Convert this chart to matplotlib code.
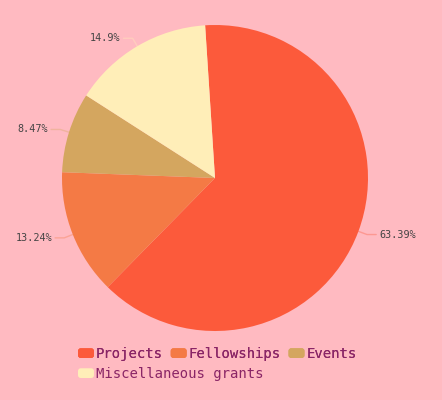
import numpy as np
import matplotlib
matplotlib.use('Agg')
import matplotlib.pyplot as plt
from matplotlib.patches import Patch, FancyBboxPatch
from matplotlib.legend_handler import HandlerPatch

# data
categories = ['Projects', 'Fellowships', 'Events', 'Miscellaneous grants']
shares = [63.39, 13.24, 8.47, 14.9]
pct_labels = ['63.39%', '13.24%', '8.47%', '14.9%']
colors = ['#FC5A3B', '#F47A45', '#D4A65F', '#FFEEB8']

bg = '#FFBAC1'
legend_color = '#8A2566'
label_color = '#444444'

fig = plt.figure(figsize=(4.42, 4.00), dpi=100, facecolor=bg)
ax = fig.add_axes([0, 0, 1, 1])
ax.set_facecolor(bg)

wedges, _ = ax.pie(shares, colors=colors, startangle=93.7, counterclock=False,
                   radius=1.0, wedgeprops=dict(linewidth=0))

# leader lines + labels
for w, lab, c in zip(wedges, pct_labels, colors):
    mid = np.deg2rad((w.theta1 + w.theta2) / 2)
    x0, y0 = np.cos(mid), np.sin(mid)
    x1, y1 = 1.06 * x0, 1.06 * y0
    side = 1 if x0 >= 0 else -1
    x2 = x1 + side * 0.06
    ax.plot([x0, x1, x2], [y0, y1, y1], color=c, alpha=0.35, lw=1,
            solid_capstyle='round')
    ax.text(x2 + side * 0.018, y1, lab, ha='left' if side > 0 else 'right',
            va='center', fontsize=7.3, family='DejaVu Sans Mono', color=label_color)

ax.set_aspect('auto')
ax.set_xlim(-215 / 153, 227 / 153)
ax.set_ylim(-222 / 153, 178 / 153)
ax.axis('off')


def rounded(legend, orig_handle, xdescent, ydescent, width, height, fontsize):
    return FancyBboxPatch((-xdescent, -ydescent), width, height,
                          boxstyle='round,pad=0,rounding_size=2')


handles = [Patch(facecolor=c, edgecolor='none', label=n) for c, n in zip(colors, categories)]
hmap = {Patch: HandlerPatch(patch_func=rounded)}
opts = dict(frameon=False, prop={'family': 'DejaVu Sans Mono', 'size': 10},
            labelcolor=legend_color, handlelength=1.15, handleheight=0.7,
            handletextpad=0.15, columnspacing=0.55, borderpad=0, borderaxespad=0,
            handler_map=hmap, loc='center left')

leg1 = fig.legend(handles=handles[:3], ncol=3, bbox_to_anchor=(78 / 442, 46 / 400), **opts)
fig.add_artist(leg1)
fig.legend(handles=handles[3:], ncol=1, bbox_to_anchor=(78 / 442, 26 / 400), **opts)

plt.savefig('out.png', dpi=100, facecolor=bg)
